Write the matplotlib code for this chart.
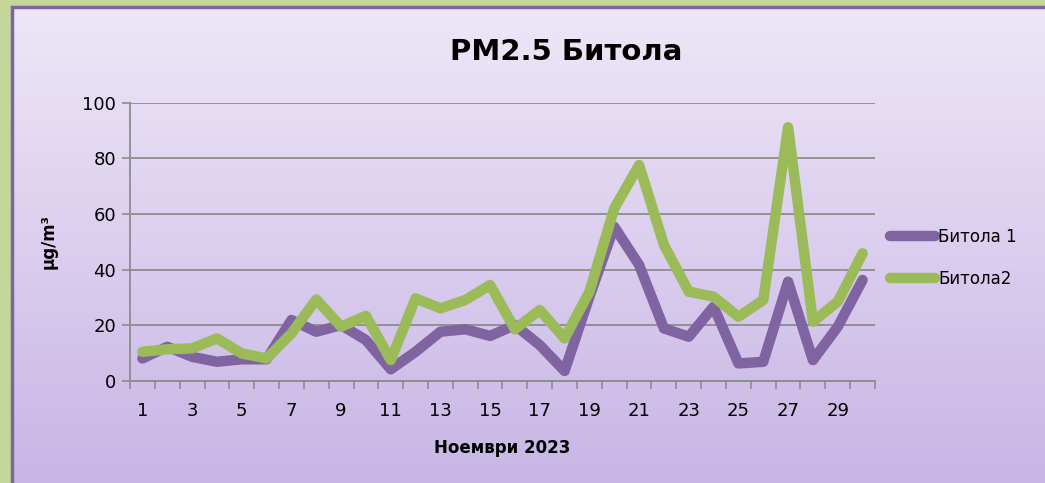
#!/usr/bin/env python3
"""PM2.5 Bitola, November 2023 — two stations."""

import numpy as np
import matplotlib
matplotlib.use("Agg")
import matplotlib.pyplot as plt
from matplotlib.patches import Rectangle

DAYS = list(range(1, 31))
BITOLA_1 = [8.1, 12.3, 8.7, 6.9, 7.8, 7.8, 21.9, 17.7, 20.1, 14.7,
            4.2, 10.5, 17.7, 18.6, 16.2, 20.1, 12.9, 3.6, 30.3, 55.4,
            41.7, 18.9, 15.9, 26.7, 6.3, 6.9, 35.7, 7.5, 19.5, 36.3]
BITOLA_2 = [10.5, 11.4, 11.7, 15.3, 9.9, 8.1, 17.1, 29.3, 19.5, 23.4,
            7.5, 29.7, 26.1, 29.1, 34.5, 18.6, 25.5, 15.3, 32.1, 62.0,
            77.6, 48.9, 32.1, 30.3, 23.1, 29.1, 91.2, 21.3, 28.5, 45.9]
TICK_DAYS = list(range(1, 30, 2))

PURPLE = "#8064A2"
GREEN = "#9BBB59"
GRID = "#8c8c8c"

W, H = 1045, 483
fig = plt.figure(figsize=(W / 100, H / 100), dpi=100)
fig.patch.set_facecolor("#C4D79B")

# inner panel with vertical gradient (runs off the right and bottom edges)
bg = fig.add_axes([12 / W, -4 / H, 1 - 8 / W, 1 - 3 / H])
grad = np.linspace(0, 1, 256)[:, None]
top = np.array([0.933, 0.906, 0.969])
bot = np.array([0.784, 0.710, 0.898])
img = top[None, None, :] * (1 - grad[..., None]) + bot[None, None, :] * grad[..., None]
bg.imshow(img, aspect="auto", extent=[0, 1, 0, 1], origin="upper")
bg.add_patch(Rectangle((0, 0), 1, 1, fill=False, edgecolor=PURPLE,
                       linewidth=2.5, transform=bg.transAxes, clip_on=False))
bg.set_axis_off()

x0, x1 = 130, 875
y0, y1 = 381, 102.7
ax = fig.add_axes([x0 / W, 1 - y0 / H, (x1 - x0) / W, (y0 - y1) / H])
ax.patch.set_alpha(0)

ax.plot(DAYS, BITOLA_1, color=PURPLE, linewidth=7.5, solid_joinstyle="round",
        solid_capstyle="round", label="Битола 1", zorder=3)
ax.plot(DAYS, BITOLA_2, color=GREEN, linewidth=7.5, solid_joinstyle="round",
        solid_capstyle="round", label="Битола2", zorder=4)

ax.set_xlim(0.5, 30.5)
ax.set_ylim(0, 100)
ax.set_yticks(range(0, 101, 20))
ax.set_xticks(TICK_DAYS)
ax.set_xticks(np.arange(0.5, 31, 1), minor=True)
ax.tick_params(axis="x", which="major", length=0, pad=15, labelsize=13)
ax.tick_params(axis="x", which="minor", length=6, color=GRID, width=1.2)
ax.tick_params(axis="y", length=6, color=GRID, width=1.2, labelsize=13, pad=4)
ax.grid(True, axis="y", color=GRID, linewidth=1.3)
for side in ("top", "right"):
    ax.spines[side].set_visible(False)
for side in ("left", "bottom"):
    ax.spines[side].set_color(GRID)
    ax.spines[side].set_linewidth(1.3)

ax.set_xlabel("Ноември 2023", fontsize=12, fontweight="bold", labelpad=14)
ax.set_ylabel("µg/m³", fontsize=12, fontweight="bold", labelpad=18)
fig.text(566 / W, 1 - 52 / H, "PM2.5 Битола", fontsize=21, fontweight="bold",
         ha="center", va="center")

ax.legend(loc="center left", bbox_to_anchor=(1.0, 0.5 - 16 / 278), frameon=False,
          fontsize=12, handlelength=2.7, handletextpad=0.2, labelspacing=1.45,
          borderaxespad=0.5)

fig.savefig("out.png", dpi=100, facecolor=fig.get_facecolor())
